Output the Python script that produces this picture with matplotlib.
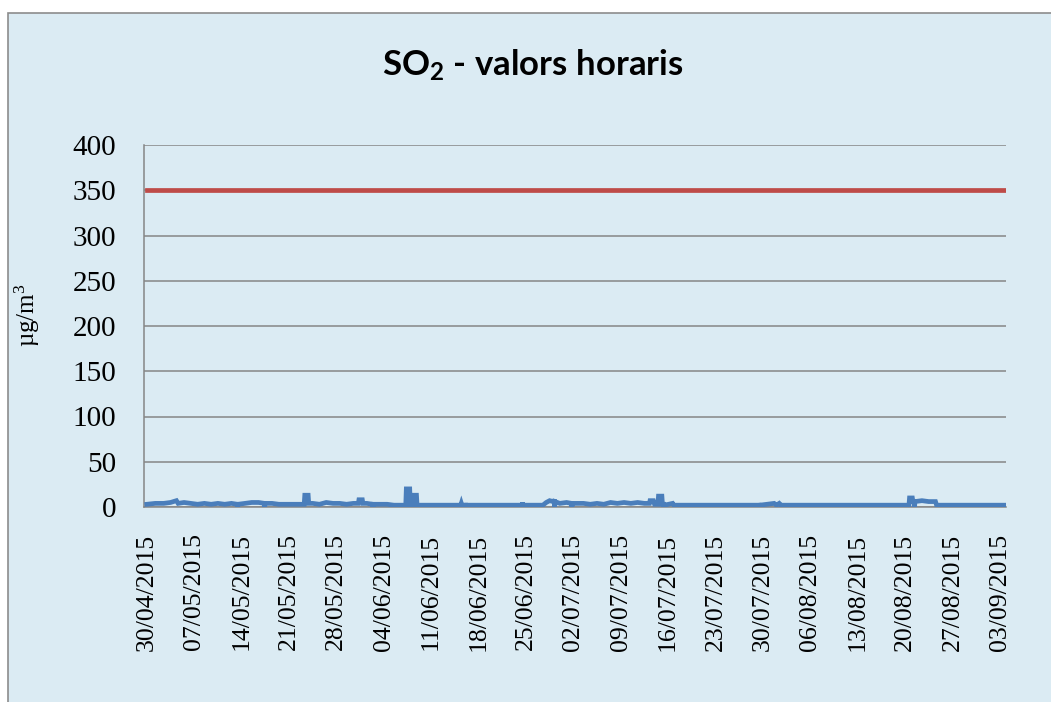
#!/usr/bin/env python3
"""
SO2 - valors horaris (30/04/2015 - 03/09/2015)
"""

import matplotlib
matplotlib.use('Agg')
import matplotlib.pyplot as plt
from matplotlib.patches import Rectangle
import pandas as pd

plt.rcParams['mathtext.default'] = 'regular'

# Hourly SO2 values (ug/m3) at the points where the trace changes
hores = [
    '2015-04-30 00:00', '2015-05-01 06:00', '2015-05-02 12:00', '2015-05-03 12:00',
    '2015-05-04 09:00', '2015-05-04 15:00', '2015-05-05 12:00', '2015-05-06 12:00',
    '2015-05-07 12:00', '2015-05-08 12:00', '2015-05-09 12:00', '2015-05-10 12:00',
    '2015-05-11 12:00', '2015-05-12 12:00', '2015-05-13 09:00', '2015-05-13 10:00',
    '2015-05-13 11:00', '2015-05-14 12:00', '2015-05-15 12:00', '2015-05-16 12:00',
    '2015-05-17 09:00', '2015-05-17 10:00', '2015-05-17 11:00', '2015-05-18 12:00',
    '2015-05-19 12:00', '2015-05-20 12:00', '2015-05-21 12:00', '2015-05-22 12:00',
    '2015-05-23 06:00', '2015-05-23 08:00', '2015-05-23 20:00', '2015-05-23 22:00',
    '2015-05-24 12:00', '2015-05-25 12:00', '2015-05-26 12:00', '2015-05-27 12:00',
    '2015-05-28 12:00', '2015-05-29 12:00', '2015-05-30 12:00', '2015-05-31 06:00',
    '2015-05-31 08:00', '2015-05-31 20:00', '2015-05-31 22:00', '2015-06-01 12:00',
    '2015-06-02 09:00', '2015-06-02 10:00', '2015-06-02 11:00', '2015-06-03 12:00',
    '2015-06-04 12:00', '2015-06-05 12:00', '2015-06-06 12:00', '2015-06-07 06:00',
    '2015-06-07 08:00', '2015-06-07 20:00', '2015-06-07 22:00', '2015-06-08 06:00',
    '2015-06-08 08:00', '2015-06-08 20:00', '2015-06-08 22:00', '2015-06-15 09:00',
    '2015-06-15 11:00', '2015-06-15 13:00', '2015-06-16 03:00', '2015-06-16 04:00',
    '2015-06-16 05:00', '2015-06-24 10:00', '2015-06-24 12:00', '2015-06-24 14:00',
    '2015-06-27 12:00', '2015-06-28 00:00', '2015-06-28 12:00', '2015-06-29 00:00',
    '2015-06-29 05:00', '2015-06-29 06:00', '2015-06-29 07:00', '2015-06-30 00:00',
    '2015-07-01 00:00', '2015-07-01 18:00', '2015-07-01 19:00', '2015-07-01 20:00',
    '2015-07-03 12:00', '2015-07-04 12:00', '2015-07-05 12:00', '2015-07-06 12:00',
    '2015-07-07 12:00', '2015-07-08 12:00', '2015-07-09 12:00', '2015-07-10 12:00',
    '2015-07-11 12:00', '2015-07-12 12:00', '2015-07-13 06:00', '2015-07-13 08:00',
    '2015-07-13 20:00', '2015-07-14 00:00', '2015-07-14 12:00', '2015-07-14 14:00',
    '2015-07-15 02:00', '2015-07-15 04:00', '2015-07-15 09:00', '2015-07-15 10:00',
    '2015-07-15 11:00', '2015-07-16 16:00', '2015-07-16 20:00', '2015-07-29 11:00',
    '2015-07-29 12:00', '2015-07-29 13:00', '2015-07-31 16:00', '2015-08-01 00:00',
    '2015-08-01 10:00', '2015-08-01 16:00', '2015-08-20 14:00', '2015-08-20 16:00',
    '2015-08-21 02:00', '2015-08-21 04:00', '2015-08-21 09:00', '2015-08-21 10:00',
    '2015-08-21 11:00', '2015-08-22 12:00', '2015-08-23 12:00', '2015-08-24 12:00',
    '2015-08-24 16:00', '2015-09-03 23:00',
]
valors = [
    3, 4, 4, 5,
    7, 4, 5, 4,
    3, 4, 3, 4,
    3, 4, 3, 0,
    3, 4, 5, 5,
    4, 0, 4, 4,
    3, 3, 3, 3,
    3, 13, 13, 4,
    4, 3, 5, 4,
    4, 3, 4, 4,
    8, 8, 4, 4,
    3, 0, 3, 3,
    3, 2, 2, 2,
    20, 20, 2, 2,
    13, 13, 2, 2,
    4, 2, 2, 0,
    2, 2, 5, 2,
    2, 5, 7, 6,
    6, 0, 6, 4,
    5, 4, 0, 4,
    4, 3, 4, 3,
    5, 4, 5, 4,
    5, 4, 4, 7,
    7, 3, 3, 12,
    12, 3, 3, 0,
    2, 4, 2, 2,
    0, 2, 4, 2,
    4, 2, 2, 10,
    10, 6, 6, 0,
    6, 7, 6, 6,
    2, 2,
]

valor_limit = 350
etiquetes_x = ['30/04/2015', '07/05/2015', '14/05/2015', '21/05/2015', '28/05/2015',
               '04/06/2015', '11/06/2015', '18/06/2015', '25/06/2015', '02/07/2015',
               '09/07/2015', '16/07/2015', '23/07/2015', '30/07/2015', '06/08/2015',
               '13/08/2015', '20/08/2015', '27/08/2015', '03/09/2015']
ticks_y = [0, 50, 100, 150, 200, 250, 300, 350, 400]

temps = pd.to_datetime(hores)
dates_x = pd.to_datetime(etiquetes_x, format='%d/%m/%Y')

W, H = 1051, 702
fig = plt.figure(figsize=(W / 100, H / 100), dpi=100)
fig.patch.set_facecolor('white')

# chart area panel (runs off the right and bottom edges)
fig.patches.append(Rectangle((8 / W, -0.1), 1.2, 1.1 - 13 / H, transform=fig.transFigure,
                             facecolor='#dbebf3', edgecolor='#8c8c8c', linewidth=1.2,
                             zorder=-5))

ax = fig.add_axes([144 / W, 1 - 507 / H, (1006 - 144) / W, (507 - 145) / H])
ax.set_zorder(2)
ax.set_facecolor('none')

ax.plot(temps, valors, color='#4a7ebb', linewidth=3.4, solid_joinstyle='miter', zorder=3)
ax.plot([temps[0], temps[-1]], [valor_limit, valor_limit], color='#be4b48',
        linewidth=3.4, zorder=3)

ax.set_ylim(0, 400)
ax.set_xlim(dates_x[0] - pd.Timedelta(hours=10), dates_x[-1] + pd.Timedelta(hours=22))
ax.set_yticks(ticks_y)
ax.yaxis.grid(True, color='#868686', linewidth=1.1)
ax.set_axisbelow(True)

ax.set_xticks(dates_x)
ax.set_xticklabels(etiquetes_x, rotation=90, family='Liberation Serif', fontsize=18.5)
for lab in ax.get_yticklabels():
    lab.set_family('Liberation Serif')
    lab.set_fontsize(21)
ax.tick_params(axis='y', length=0, pad=20)
ax.tick_params(axis='x', length=0, pad=19)

for s in ['top', 'right']:
    ax.spines[s].set_visible(False)
for s in ['left', 'bottom']:
    ax.spines[s].set_color('#868686')
    ax.spines[s].set_linewidth(1.1)

fig.text(533 / W, 1 - 65 / H, 'SO$_2$ - valors horaris', ha='center', va='center',
         family='Lato', fontweight='bold', fontsize=25)
fig.text(27 / W, 1 - 315 / H, 'µg/m$^3$', ha='center', va='center', rotation=90,
         family='Liberation Serif', fontsize=18)

fig.savefig('out.png', dpi=100)
print("Saved: out.png")
